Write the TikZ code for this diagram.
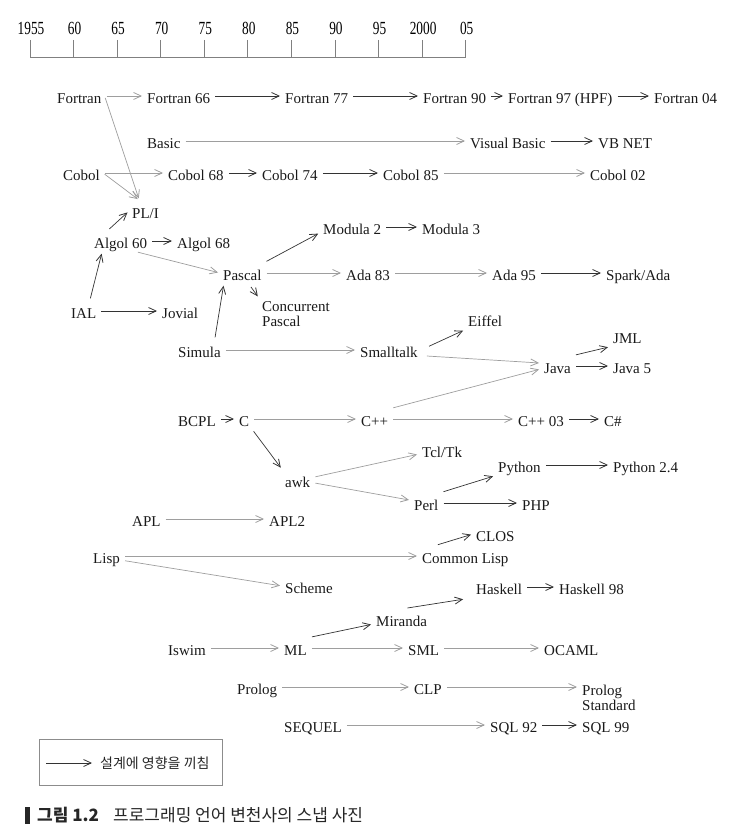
\documentclass[tikz,border=0pt]{standalone}
\usepackage{fontspec}
\setmainfont{Liberation Serif}
\newfontfamily\axisfont[FakeStretch=0.72]{Liberation Serif}
\newfontfamily\krfont{Noto Sans CJK KR}
\usetikzlibrary{arrows.meta}

\begin{document}
\begin{tikzpicture}[x=1pt,y=-1pt,
            lang/.style={anchor=west, inner sep=3pt, text=black!90,
                font=\fontsize{15}{15}\selectfont, text height=15pt, text depth=0pt},
            lang2/.style={anchor=north west, inner sep=3pt, align=left, text=black!90,
                font=\fontsize{15}{15}\selectfont},
            infl/.style={draw=black!80, line width=.7pt, shorten <=2pt, shorten >=2pt,
                -{Straight Barb[length=7.5pt,width=7pt,line width=.8pt]}},
            grayinfl/.style={infl, draw=black!38}]
            \useasboundingbox (0,0) rectangle (732,837);

            % time axis
            \draw[black!50, line width=.8pt] (30,57) -- (466,57);
            \foreach \yr [count=\i from 0] in {1955,60,65,70,75,80,85,90,95,2000,05} {
                \draw[black!50, line width=.8pt] (30+43.57*\i,40) -- (30+43.57*\i,57);
                \node[font=\axisfont\fontsize{18.5}{18.5}\selectfont] (yr\i) at (31+43.57*\i,28.5) {\yr};
            }

            % languages
            \node[lang] (fortran) at (54,96) {Fortran};
            \node[lang] (fortran66) at (144,96) {Fortran 66};
            \node[lang] (fortran77) at (282,96) {Fortran 77};
            \node[lang] (fortran90) at (420,96) {Fortran 90};
            \node[lang] (fortran97) at (505,96) {Fortran 97 (HPF)};
            \node[lang] (fortran04) at (651,96) {Fortran 04};
            \node[lang] (basic) at (144,141) {Basic};
            \node[lang] (visualbasic) at (467,141) {Visual Basic};
            \node[lang] (vbnet) at (595,141) {VB NET};
            \node[lang] (cobol) at (60,173) {Cobol};
            \node[lang] (cobol68) at (165,173) {Cobol 68};
            \node[lang] (cobol74) at (259,173) {Cobol 74};
            \node[lang] (cobol85) at (380,173) {Cobol 85};
            \node[lang] (cobol02) at (587,173) {Cobol 02};
            \node[lang] (pli) at (129,211) {PL/I};
            \node[lang] (algol60) at (91,241) {Algol 60};
            \node[lang] (algol68) at (174,241) {Algol 68};
            \node[lang] (modula2) at (320,227) {Modula 2};
            \node[lang] (modula3) at (419,227) {Modula 3};
            \node[lang] (pascal) at (220,273) {Pascal};
            \node[lang] (ada83) at (343,273) {Ada 83};
            \node[lang] (ada95) at (489,273) {Ada 95};
            \node[lang] (spark) at (603,273) {Spark/Ada};
            \node[lang] (ial) at (68,311) {IAL};
            \node[lang] (jovial) at (159,311) {Jovial};
            \node[lang2] (concurrent) at (259,298) {Concurrent\\Pascal};
            \node[lang] (simula) at (175,350) {Simula};
            \node[lang] (smalltalk) at (357,350) {Smalltalk};
            \node[lang] (eiffel) at (465,319) {Eiffel};
            \node[lang] (jml) at (610,336) {JML};
            \node[lang] (java) at (541,366) {Java};
            \node[lang] (java5) at (610,366) {Java 5};
            \node[lang] (bcpl) at (175,419) {BCPL};
            \node[lang] (c) at (236,419) {C};
            \node[lang] (cpp) at (358,419) {C++};
            \node[lang] (cpp03) at (515,419) {C++ 03};
            \node[lang] (csharp) at (601,419) {C\#};
            \node[lang] (tcltk) at (419,450) {Tcl/Tk};
            \node[lang] (awk) at (282,480) {awk};
            \node[lang] (python) at (495,465) {Python};
            \node[lang] (python24) at (610,465) {Python 2.4};
            \node[lang] (perl) at (411,503) {Perl};
            \node[lang] (php) at (519,503) {PHP};
            \node[lang] (apl) at (129,519) {APL};
            \node[lang] (apl2) at (266,519) {APL2};
            \node[lang] (clos) at (473,534) {CLOS};
            \node[lang] (lisp) at (90,556) {Lisp};
            \node[lang] (commonlisp) at (419,556) {Common Lisp};
            \node[lang] (scheme) at (282,586) {Scheme};
            \node[lang] (haskell) at (473,587) {Haskell};
            \node[lang] (haskell98) at (556,587) {Haskell 98};
            \node[lang] (miranda) at (373,619) {Miranda};
            \node[lang] (iswim) at (165,648) {Iswim};
            \node[lang] (ml) at (281,648) {ML};
            \node[lang] (sml) at (405,648) {SML};
            \node[lang] (ocaml) at (541,648) {OCAML};
            \node[lang] (prolog) at (234,687) {Prolog};
            \node[lang] (clp) at (411,687) {CLP};
            \node[lang2] (prologstd) at (579,682) {Prolog\\Standard};
            \node[lang] (sequel) at (281,725) {SEQUEL};
            \node[lang] (sql92) at (487,725) {SQL 92};
            \node[lang] (sql99) at (579,725) {SQL 99};

            % influences
            \draw[grayinfl] (fortran.east) -- (fortran66.west);
            \draw[grayinfl] (fortran.east) -- (pli.120);
            \draw[infl] (fortran66) -- (fortran77);
            \draw[infl] (fortran77) -- (fortran90);
            \draw[infl] (fortran90) -- (fortran97);
            \draw[infl] (fortran97) -- (fortran04);
            \draw[grayinfl] (basic) -- (visualbasic);
            \draw[infl] (visualbasic) -- (vbnet);
            \draw[grayinfl] (cobol.east) -- (cobol68.west);
            \draw[grayinfl] (cobol.east) -- (pli.120);
            \draw[infl] (cobol68) -- (cobol74);
            \draw[infl] (cobol74) -- (cobol85);
            \draw[grayinfl] (cobol85) -- (cobol02);
            \draw[infl] (algol60.140) -- (pli.west);
            \draw[infl] (algol60) -- (algol68);
            \draw[grayinfl] (algol60.-35) -- (pascal.west);
            \draw[infl] (ial.60) -- (algol60.-150);
            \draw[infl] (ial) -- (jovial);
            \draw[infl] (pascal.north east) -- (modula2.190);
            \draw[infl] (modula2) -- (modula3);
            \draw[grayinfl] (pascal) -- (ada83);
            \draw[infl, shorten <=4pt] (pascal.-60) -- (concurrent.north west);
            \draw[grayinfl] (ada83) -- (ada95);
            \draw[infl] (ada95) -- (spark);
            \draw[infl] (simula.35) -- (pascal.-150);
            \draw[grayinfl] (simula) -- (smalltalk);
            \draw[infl, shorten <=9pt] (smalltalk.east) -- (eiffel.south west);
            \draw[grayinfl, shorten <=6pt] (smalltalk.-10) -- (java.170);
            \draw[grayinfl] (cpp.north east) -- (java.190);
            \draw[infl] (java.north east) -- (jml.south west);
            \draw[infl] (java) -- (java5);
            \draw[infl] (bcpl) -- (c);
            \draw[grayinfl] (c) -- (cpp);
            \draw[infl] (c.south east) -- (awk.north west);
            \draw[grayinfl] (cpp) -- (cpp03);
            \draw[infl] (cpp03) -- (csharp);
            \draw[grayinfl] (awk.10) -- (tcltk.190);
            \draw[grayinfl] (awk.-10) -- (perl.170);
            \draw[infl] (perl.north east) -- (python.south west);
            \draw[infl] (python) -- (python24);
            \draw[infl] (perl) -- (php);
            \draw[grayinfl] (apl) -- (apl2);
            \draw[grayinfl] (lisp) -- (commonlisp);
            \draw[grayinfl] (lisp.-15) -- (scheme.west);
            \draw[infl] (commonlisp.160) -- (clos.west);
            \draw[grayinfl] (iswim) -- (ml);
            \draw[infl] (ml.north east) -- (miranda.190);
            \draw[infl, shorten >=10pt] (miranda.70) -- (haskell.south west);
            \draw[infl] (haskell) -- (haskell98);
            \draw[grayinfl] (ml) -- (sml);
            \draw[grayinfl] (sml) -- (ocaml);
            \draw[grayinfl] (prolog) -- (clp);
            \draw[grayinfl] (clp.east) -- (clp.east -| prologstd.west);
            \draw[grayinfl] (sequel) -- (sql92);
            \draw[infl] (sql92) -- (sql99);

            % legend
            \draw[black!45, line width=.8pt] (39,739) rectangle (222,785);
            \coordinate (legfrom) at (46,763);
            \node[anchor=west, inner sep=0pt, font=\krfont\fontsize{14}{14}\selectfont, text=black!85]
                (legtext) at (100,763) {설계에 영향을 끼침};
            \draw[infl, shorten <=0pt, shorten >=8pt] (legfrom) -- (legtext.west);

            % caption
            \fill[black!85] (25,807) rectangle (30,824);
            \node[anchor=west, inner sep=0pt, font=\krfont\bfseries\fontsize{17}{17}\selectfont, text=black!85]
                (capnum) at (37,815.5) {그림 1.2};
            \node[anchor=west, inner sep=0pt, font=\krfont\fontsize{17}{17}\selectfont, text=black!85]
                (captext) at (113,815.5) {프로그래밍 언어 변천사의 스냅 사진};
\end{tikzpicture}
\end{document}
